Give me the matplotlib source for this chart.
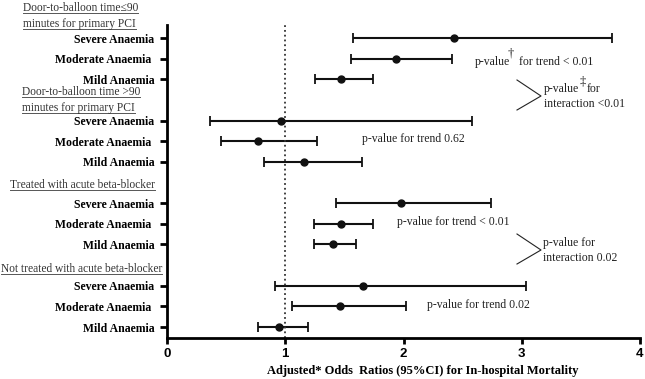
import numpy as np
import matplotlib.pyplot as plt

W, H = 645, 379

group_titles = ['Door-to-balloon time≤90\nminutes for primary PCI',
                'Door-to-balloon time >90\nminutes for primary PCI',
                'Treated with acute beta-blocker',
                'Not treated with acute beta-blocker']
row_labels = ['Severe Anaemia', 'Moderate Anaemia ', 'Mild Anaemia'] * 4
rows = [0, 1, 2, 4, 5, 6, 8, 9, 10, 12, 13, 14]
odds = [2.43, 1.94, 1.47, 0.96, 0.77, 1.16, 1.98, 1.47, 1.40, 1.66, 1.46, 0.95]
lower = [1.57, 1.56, 1.25, 0.36, 0.46, 0.82, 1.43, 1.24, 1.24, 0.91, 1.06, 0.77]
upper = [3.76, 2.41, 1.74, 2.58, 1.27, 1.65, 2.74, 1.74, 1.60, 3.04, 2.02, 1.19]
xticks = [0, 1, 2, 3, 4]

serif = 'Liberation Serif'
sans = 'Liberation Sans'


def px(x, y):
    return x / W, 1 - y / H


fig = plt.figure(figsize=(W / 100, H / 100), dpi=100)
ax = fig.add_axes([167 / W, 1 - 338 / H, (640 - 167) / W, (338 - 25) / H])

odds = np.array(odds)
err = np.array([odds - np.array(lower), np.array(upper) - odds])
ax.errorbar(odds, rows, xerr=err, fmt='o', color='#111111', ms=5,
            elinewidth=1.5, capsize=3.5, capthick=1.3)
ax.axvline(1, color='#333333', ls=':', lw=1.3)

ax.set_xlim(0, 4)
ax.set_ylim(14.53, -0.63)
ax.set_xticks(xticks)
ax.set_xticklabels([str(t) for t in xticks], fontfamily=sans,
                   fontweight='bold', fontsize=9.5)
ax.set_yticks(rows)
ax.set_yticklabels(row_labels, fontfamily=serif, fontweight='bold', fontsize=8.5)
for s in ['top', 'right']:
    ax.spines[s].set_visible(False)
for s in ['left', 'bottom']:
    ax.spines[s].set_linewidth(2)
ax.tick_params(axis='y', length=5, width=2, pad=4)
ax.tick_params(axis='x', length=4, width=2, pad=3)
ax.set_xlabel('Adjusted* Odds  Ratios (95%CI) for In-hospital Mortality',
              fontfamily=serif, fontweight='bold', fontsize=9)
ax.xaxis.set_label_coords((423 - 167) / (640 - 167), -0.085)

# group headers (underlined)
head_pos = [(23, 8), (22, 92), (10, 185), (1, 269)]
heads = []
for title, (hx, hy) in zip(group_titles, head_pos):
    for i, line in enumerate(title.split('\n')):
        t = fig.text(*px(hx, hy + i * 16), line, fontfamily=serif, fontsize=8.3,
                     color='#333333', ha='left', va='center')
        heads.append(t)

# annotations
def note(x, y, s, size=8.5):
    fig.text(*px(x, y), s, fontfamily=serif, fontsize=size, color='#222222',
             ha='left', va='center')

note(475, 62, 'p-value')
note(508, 53, '†', 9)
note(519, 62, 'for trend < 0.01')
note(544, 89, 'p-value')
note(580, 82, '‡', 9)
note(587, 89, 'for')
note(544, 104, 'interaction <0.01')
note(362, 139, 'p-value for trend 0.62')
note(397, 222, 'p-value for trend < 0.01')
note(543, 243, 'p-value for')
note(543, 258, 'interaction 0.02')
note(427, 305, 'p-value for trend 0.02')

for (x0, y0, x1, y1, x2, y2) in [(517, 80, 541, 96, 517, 110),
                                 (517, 234, 541, 250, 517, 264)]:
    fx, fy = zip(px(x0, y0), px(x1, y1), px(x2, y2))
    fig.add_artist(plt.Line2D(fx, fy, color='#222222', lw=0.8))

fig.canvas.draw()
r = fig.canvas.get_renderer()
inv = fig.transFigure.inverted()
for t in heads:
    bb = t.get_window_extent(r).transformed(inv)
    yl = bb.y0 + 0.002
    fig.add_artist(plt.Line2D([bb.x0, bb.x1], [yl, yl], color='#555555', lw=0.7))

fig.savefig('out.png', dpi=100)
